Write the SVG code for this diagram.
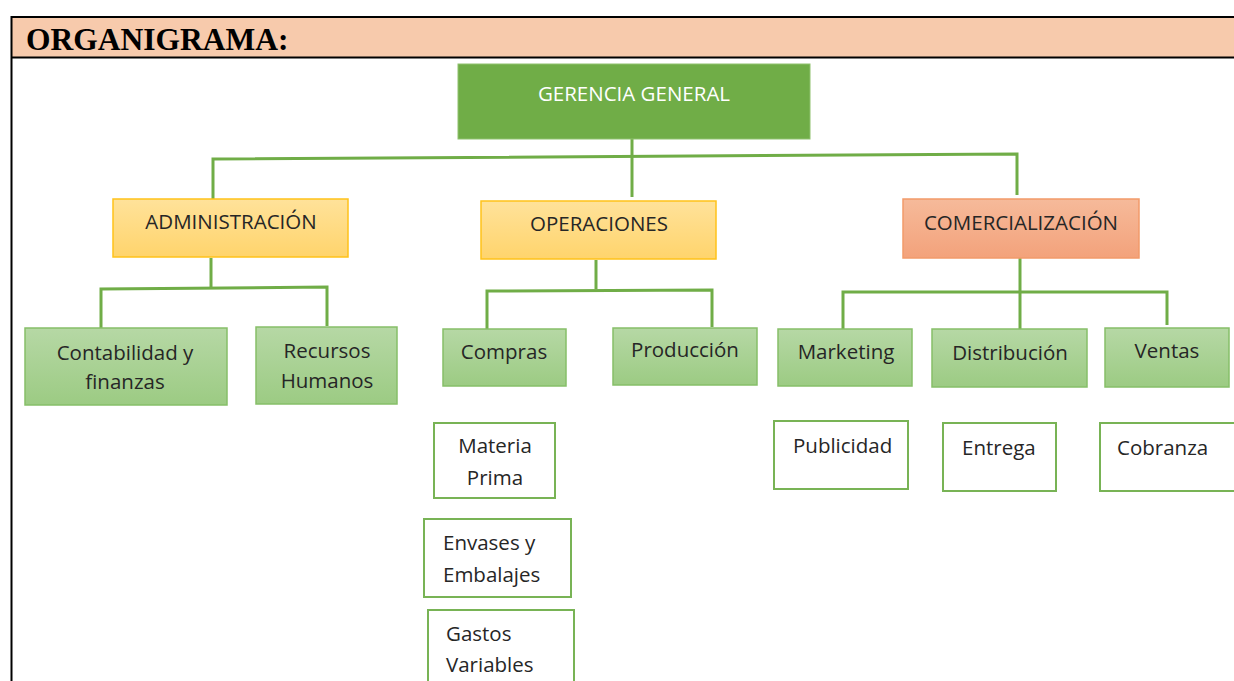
<svg xmlns="http://www.w3.org/2000/svg" width="1234" height="681" viewBox="0 0 1234 681">
<defs>
<linearGradient id="gGreen" x1="0" y1="0" x2="0" y2="1"><stop offset="0" stop-color="#B6D8A5"/><stop offset="1" stop-color="#9CCB83"/></linearGradient>
<linearGradient id="gYellow" x1="0" y1="0" x2="0" y2="1"><stop offset="0" stop-color="#FFE29A"/><stop offset="1" stop-color="#FFD46C"/></linearGradient>
<linearGradient id="gSalmon" x1="0" y1="0" x2="0" y2="1"><stop offset="0" stop-color="#F6BA9A"/><stop offset="1" stop-color="#F3A27B"/></linearGradient>
<style>
.t{font-family:"Open Sans","Liberation Sans",sans-serif;font-size:20.5px;fill:#262626}
.c{text-anchor:middle}
.top{fill:#70AD47;stroke:#8FC16E;stroke-width:1}
.yel{fill:url(#gYellow);stroke:#FFC21A;stroke-width:1.5}
.sal{fill:url(#gSalmon);stroke:#F29A6A;stroke-width:1.5}
.grn{fill:url(#gGreen);stroke:#86BF68;stroke-width:1.5}
.wht{fill:#fff;stroke:#78B355;stroke-width:2}
.ln{fill:none;stroke:#70AD47;stroke-width:3}
</style>
</defs>
<rect width="1234" height="681" fill="#fff"/>
<g id="header">
<rect x="12" y="17" width="1222" height="40" fill="#F7CAAC"/>
<line x1="11" y1="17" x2="1234" y2="17" stroke="#000" stroke-width="2"/>
<line x1="11" y1="57.5" x2="1234" y2="57.5" stroke="#000" stroke-width="2"/>
<line x1="11.5" y1="16" x2="11.5" y2="681" stroke="#000" stroke-width="2"/>
<text x="26" y="50" font-family="'Liberation Serif',serif" font-weight="bold" font-size="31.5" fill="#000">ORGANIGRAMA:</text>
</g>
<g id="connectors">
<line class="ln" x1="632" y1="139" x2="632" y2="197"/>
<polyline class="ln" points="213,199 213,159 1017,154 1017,195"/>
<polyline class="ln" points="211,258 211,288"/>
<polyline class="ln" points="101,328 101,289 327,287 327,326"/>
<polyline class="ln" points="596,260 596,289"/>
<polyline class="ln" points="487,329 487,291 712,290 712,327"/>
<polyline class="ln" points="1020,258 1020,329"/>
<polyline class="ln" points="843,329 843,292 1167,292 1167,325"/>
</g>
<g id="gerencia"><rect class="top" x="458" y="64" width="352" height="75"/><text class="t c" x="634" y="101" style="fill:#fff">GERENCIA GENERAL</text></g>
<g id="administracion"><rect class="yel" x="113" y="199" width="235" height="58"/><text class="t c" x="231" y="229">ADMINISTRACIÓN</text></g>
<g id="operaciones"><rect class="yel" x="481" y="201" width="235" height="58"/><text class="t c" x="599" y="231">OPERACIONES</text></g>
<g id="comercializacion"><rect class="sal" x="903" y="199" width="236" height="59"/><text class="t c" x="1021" y="230">COMERCIALIZACIÓN</text></g>
<g id="contabilidad"><rect class="grn" x="25" y="328" width="202" height="77"/><text class="t c" x="125" y="360">Contabilidad y</text><text class="t c" x="125" y="389">finanzas</text></g>
<g id="recursos"><rect class="grn" x="256" y="327" width="141" height="77"/><text class="t c" x="327" y="358">Recursos</text><text class="t c" x="327" y="388">Humanos</text></g>
<g id="compras"><rect class="grn" x="443" y="329" width="123" height="57"/><text class="t c" x="504" y="359">Compras</text></g>
<g id="produccion"><rect class="grn" x="613" y="328" width="144" height="57"/><text class="t c" x="685" y="357">Producción</text></g>
<g id="marketing"><rect class="grn" x="778" y="329" width="134" height="57"/><text class="t c" x="846" y="359">Marketing</text></g>
<g id="distribucion"><rect class="grn" x="932" y="329" width="155" height="58"/><text class="t c" x="1010" y="360">Distribución</text></g>
<g id="ventas"><rect class="grn" x="1105" y="328" width="124" height="59"/><text class="t c" x="1167" y="358">Ventas</text></g>
<g id="materia"><rect class="wht" x="434" y="423" width="121" height="75"/><text class="t c" x="495" y="453">Materia</text><text class="t c" x="495" y="485">Prima</text></g>
<g id="envases"><rect class="wht" x="424" y="519" width="147" height="78"/><text class="t" x="443" y="550">Envases y</text><text class="t" x="443" y="582">Embalajes</text></g>
<g id="gastos"><rect class="wht" x="428" y="610" width="146" height="80"/><text class="t" x="446" y="641">Gastos</text><text class="t" x="446" y="672">Variables</text></g>
<g id="publicidad"><rect class="wht" x="774" y="421" width="134" height="68"/><text class="t" x="793" y="453">Publicidad</text></g>
<g id="entrega"><rect class="wht" x="943" y="423" width="113" height="68"/><text class="t" x="962" y="455">Entrega</text></g>
<g id="cobranza"><rect class="wht" x="1100" y="423" width="140" height="68"/><text class="t" x="1117" y="455">Cobranza</text></g>
</svg>
